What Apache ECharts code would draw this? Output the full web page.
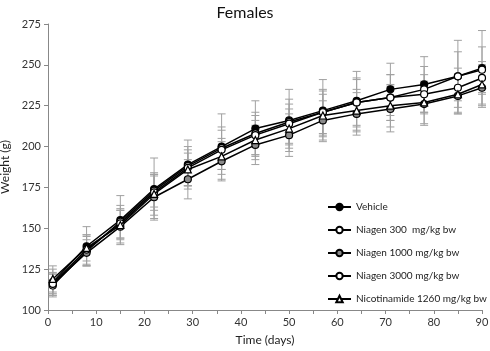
<!DOCTYPE html>
<html>
<head>
<meta charset="utf-8">
<script src="https://cdn.jsdelivr.net/npm/echarts@6/dist/echarts.min.js"></script>
<style>
  html, body { margin: 0; padding: 0; background: #fff; }
  #main { width: 490px; height: 351px; }
</style>
</head>
<body>
<div id="main"></div>
<script>
// 数据 (days)
var days = [1, 8, 15, 22, 29, 36, 43, 50, 57, 64, 71, 78, 85, 90];

var vehicle  = [117, 139, 155, 174, 189, 200, 211, 216, 222, 228, 235, 238, 243, 248];
var n300     = [115, 136, 154, 173, 188, 199, 208, 215, 221, 227, 230, 235, 243, 247];
var n1000    = [116, 135, 151, 169, 180, 191, 201, 207, 216, 220, 223, 226, 231, 236];
var n3000    = [116, 137, 153, 172, 187, 198, 207, 214, 221, 227, 230, 232, 236, 242];
var nico     = [119, 138, 152, 171, 186, 194, 204, 211, 219, 222, 225, 227, 232, 238];

// SD
var vehicleSd = [8, 12, 15, 19, 15, 20, 17, 19, 19, 18, 16, 17, 22, 23];
var n300Sd    = [7, 9, 10, 10, 12, 13, 13, 14, 14, 15, 14, 14, 15, 14];
var n1000Sd   = [6, 8, 10, 13, 12, 12, 12, 13, 12, 13, 14, 13, 11, 12];
var n3000Sd   = [7, 9, 9, 11, 11, 12, 12, 12, 13, 14, 14, 12, 12, 10];
var nicoSd    = [8, 8, 9, 13, 10, 11, 12, 12, 13, 13, 13, 13, 12, 12];

var names = ['Vehicle', 'Niagen 300  mg/kg bw', 'Niagen 1000 mg/kg bw',
             'Niagen 3000 mg/kg bw', 'Nicotinamide 1260 mg/kg bw'];
var values = [vehicle, n300, n1000, n3000, nico];
var sds = [vehicleSd, n300Sd, n1000Sd, n3000Sd, nicoSd];
var fills = ['#000', '#fff', '#8a8a8a', '#fff', '#fff'];
var symbols = ['circle', 'circle', 'circle', 'circle', 'triangle'];

var fontName = 'Lato';

function pairs(arr) {
    return days.map(function (d, i) { return [d, arr[i]]; });
}

function errData(arr, sd) {
    return days.map(function (d, i) { return [d, arr[i] - sd[i], arr[i] + sd[i]]; });
}

function renderErr(params, api) {
    var lo = api.coord([api.value(0), api.value(1)]);
    var hi = api.coord([api.value(0), api.value(2)]);
    var w = 4;
    var st = { stroke: '#a0a0a0', lineWidth: 1 };
    return {
        type: 'group',
        children: [
            { type: 'line', shape: { x1: lo[0], y1: lo[1], x2: hi[0], y2: hi[1] }, style: st },
            { type: 'line', shape: { x1: lo[0] - w, y1: lo[1], x2: lo[0] + w, y2: lo[1] }, style: st },
            { type: 'line', shape: { x1: hi[0] - w, y1: hi[1], x2: hi[0] + w, y2: hi[1] }, style: st }
        ]
    };
}

var series = [];
names.forEach(function (n, k) {
    series.push({
        name: n + ' SD',
        type: 'custom',
        z: 1,
        renderItem: renderErr,
        data: errData(values[k], sds[k]),
        silent: true
    });
});
// 折线画在误差线之上, 先画下面的
[2, 4, 3, 1, 0].forEach(function (k) {
    series.push({
        name: names[k],
        type: 'line',
        z: 3 + k,
        data: pairs(values[k]),
        symbol: symbols[k],
        symbolSize: 7,
        showAllSymbol: true,
        lineStyle: { color: '#000', width: 1.5 },
        itemStyle: { color: fills[k], borderColor: '#000', borderWidth: 1.2 },
        emphasis: { disabled: true }
    });
});

var myChart = echarts.init(document.getElementById('main'));
var option = {
    animation: false,
    textStyle: { fontFamily: fontName },
    title: {
        text: 'Females',
        left: 'center',
        top: 0,
        textStyle: { fontFamily: fontName, fontSize: 16, fontWeight: 'normal', color: '#111' }
    },
    grid: { left: 48, right: 8, top: 24, bottom: 41, outerBoundsMode: 'none' },
    legend: {
        data: names,
        orient: 'vertical',
        left: 322,
        top: 197,
        itemWidth: 23,
        itemHeight: 8,
        itemGap: 13,
        textStyle: { fontFamily: fontName, fontSize: 10, color: '#222' }
    },
    xAxis: {
        type: 'value',
        min: 0,
        max: 90,
        interval: 10,
        name: 'Time (days)',
        nameLocation: 'middle',
        nameGap: 24,
        nameTextStyle: { fontFamily: fontName, fontSize: 12, color: '#222' },
        axisLine: { lineStyle: { color: '#888' } },
        axisTick: { show: true, length: 4, lineStyle: { color: '#888' } },
        minorTick: { show: true, splitNumber: 2, length: 4, lineStyle: { color: '#888' } },
        axisLabel: { fontFamily: fontName, fontSize: 11, color: '#333', margin: 7 },
        splitLine: { show: false }
    },
    yAxis: {
        type: 'value',
        min: 100,
        max: 275,
        interval: 25,
        name: 'Weight (g)',
        nameLocation: 'middle',
        nameGap: 36,
        nameTextStyle: { fontFamily: fontName, fontSize: 12, color: '#222' },
        axisLine: { show: true, lineStyle: { color: '#888' } },
        axisTick: { show: true, length: 4, lineStyle: { color: '#888' } },
        axisLabel: { fontFamily: fontName, fontSize: 11, color: '#333', margin: 7 },
        splitLine: { show: false }
    },
    series: series
};
myChart.setOption(option);
</script>
</body>
</html>
